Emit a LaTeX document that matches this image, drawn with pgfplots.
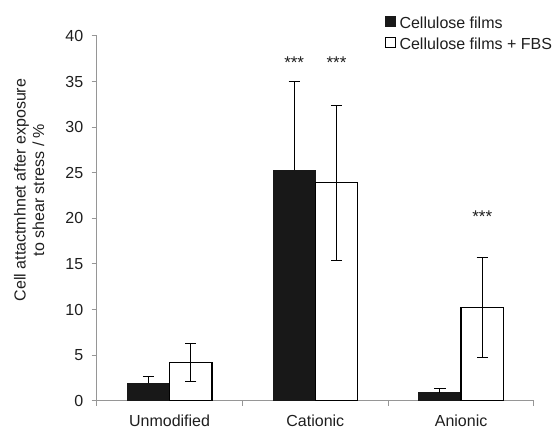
\documentclass[border=0pt]{standalone}
\usepackage{fontspec}
\setmainfont{Liberation Sans}
\usepackage{pgfplots}
\pgfplotsset{compat=1.18}
\definecolor{axisgray}{RGB}{150,150,150}
\definecolor{barblack}{RGB}{24,24,24}
\definecolor{txt}{RGB}{30,30,30}
\begin{document}
\begin{tikzpicture}
\useasboundingbox (-96.7pt,-29.3pt) rectangle (461.3pt,400.7pt);
\begin{axis}[
  at={(0,0)}, anchor=south west,
  scale only axis, width=437.3pt, height=364.7pt,
  ybar=0pt, bar width=42.3pt,
  xmin=-0.5, xmax=2.5, ymin=0, ymax=40,
  axis x line*=bottom, axis y line*=left,
  axis line style={-, draw=axisgray, line width=1.2pt},
  xtick={-0.5,0.5,1.5,2.5}, xticklabels={},
  extra x ticks={0,1,2},
  extra x tick labels={Unmodified,Cationic,Anionic},
  extra x tick style={tick style={draw=none}},
  ytick={0,5,...,40},
  tick align=outside, major tick length=5pt,
  tick style={draw=axisgray, line width=1pt},
  tick label style={font=\fontsize{16}{19}\selectfont, text=txt},
  xticklabel style={yshift=-6pt},
  yticklabel style={xshift=-5pt},
  /pgf/number format/assume math mode=true,
  ylabel={Cell attactmhnet after exposure\\to shear stress / \%},
  ylabel style={at={(axis description cs:-0.1544,0.5777)}, anchor=center,
    align=center, font=\fontsize{16}{18.7}\selectfont, text=txt},
  /pgfplots/ybar legend/.style={},
  legend style={at={(axis description cs:0.6593,1.0584)}, anchor=north west,
    draw=none, fill=none, inner sep=0pt, outer sep=0pt, row sep=4pt,
    font=\fontsize{16}{19}\selectfont, text=txt,
    /tikz/every odd column/.append style={column sep=1.5pt}},
  legend cell align=left,
]
\addplot[fill=barblack, draw=barblack, line width=1pt,
  legend image code/.code={\draw[fill=barblack, draw=barblack, line width=1pt]
    (0.5pt,-3.5pt) rectangle (10.5pt,6.5pt);},
  error bars/.cd, y dir=plus, y explicit,
  error bar style={line width=1pt, black},
  error mark options={rotate=90, line width=1pt, mark size=5.6pt, black}]
  coordinates {(0,1.9) +- (0,0.73) (1,25.3) +- (0,9.7) (2,0.88) +- (0,0.47)};
\addplot[fill=white, draw=black, line width=1.3pt,
  legend image code/.code={\draw[fill=white, draw=black, line width=1pt]
    (0.5pt,-3.5pt) rectangle (10.5pt,6.5pt);},
  error bars/.cd, y dir=both, y explicit,
  error bar style={line width=1pt, black},
  error mark options={rotate=90, line width=1pt, mark size=5.6pt, black}]
  coordinates {(0,4.2) +- (0,2.05) (1,23.9) +- (0,8.5) (2,10.2) +- (0,5.5)};
\legend{Cellulose films, Cellulose films + FBS}
\node[anchor=base, xshift=-21.15pt, text=txt, font=\fontsize{17}{17}\selectfont] at (axis cs:1,36.46) {***};
\node[anchor=base, xshift=21.15pt, text=txt, font=\fontsize{17}{17}\selectfont] at (axis cs:1,36.46) {***};
\node[anchor=base, xshift=21.15pt, text=txt, font=\fontsize{17}{17}\selectfont] at (axis cs:2,19.57) {***};
\end{axis}
\end{tikzpicture}
\end{document}
